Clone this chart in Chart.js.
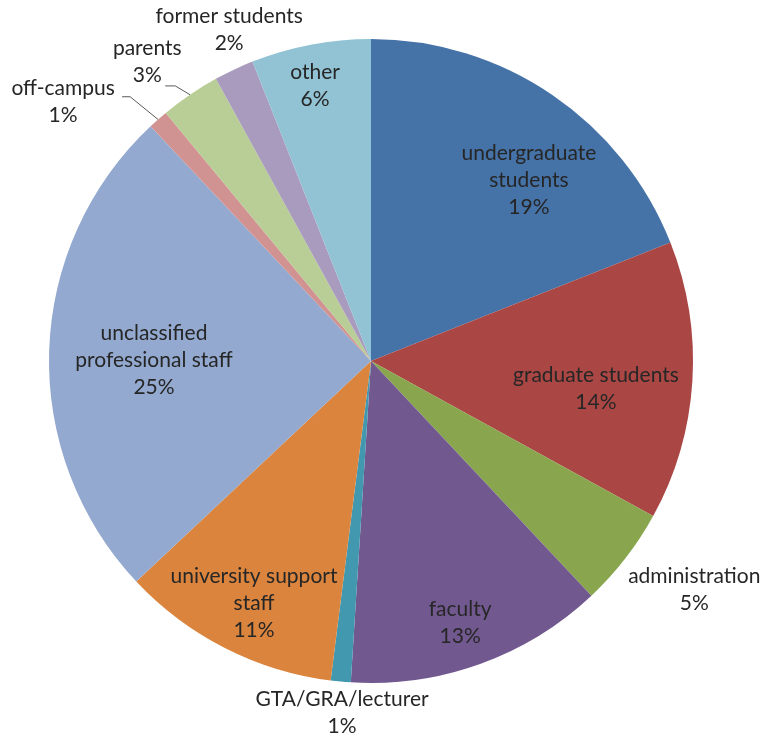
<!DOCTYPE html>
<html>
<head>
  <title>Respondents by group</title>
  <script src="https://cdn.jsdelivr.net/npm/chart.js"></script>
  <style>
    html, body { margin: 0; padding: 0; background: #fff; }
    #wrap { width: 767px; height: 742px; }
  </style>
</head>
<body>
  <div id="wrap"><canvas id="pieChart"></canvas></div>

  <script>
    const groups = [
      ["undergraduate", "students"],
      ["graduate students"],
      ["administration"],
      ["faculty"],
      ["GTA/GRA/lecturer"],
      ["university support", "staff"],
      ["unclassified", "professional staff"],
      ["off-campus"],
      ["parents"],
      ["former students"],
      ["other"]
    ];
    const shares = [19, 14, 5, 13, 1, 11, 25, 1, 3, 2, 6];
    const colors = [
      "#4572A7", "#AA4643", "#89A54E", "#71588F", "#4198AF", "#DB843D",
      "#93A9CF", "#D19392", "#B9CD96", "#A99BBD", "#92C3D4"
    ];

    // where each label sits: fraction of the radius, and degrees turned off the slice middle
    const labelRadius = [0.746, 0.704, 1.23, 0.859, 1.097, 0.835, 0.674, 1.25, 1.16, 1.118, 0.871];
    const labelTurn = [6.9, 3.5, -2.5, 1, -0.7, -1.2, -1.5, -8.5, -2.6, 2, -0.7];
    // leader lines for the two crowded outside labels: [elbow dx, end dx, dy] from label centre
    const leaders = { 7: [67, 59, -5], 8: [28, 18, 24] };

    const FONT = '21px Lato, "Liberation Sans", sans-serif';
    const LINE_H = 27;

    const sliceLabels = {
      id: "sliceLabels",
      afterDatasetsDraw(chart) {
        const ctx = chart.ctx;
        const arcs = chart.getDatasetMeta(0).data;
        ctx.save();
        ctx.font = FONT;
        ctx.fillStyle = "#262626";
        ctx.textAlign = "center";
        ctx.textBaseline = "middle";
        arcs.forEach((arc, i) => {
          const p = arc.getProps(["x", "y", "startAngle", "endAngle", "outerRadius"], true);
          const mid = (p.startAngle + p.endAngle) / 2 + labelTurn[i] * Math.PI / 180;
          const r = p.outerRadius * labelRadius[i];
          const cx = p.x + Math.cos(mid) * r;
          const cy = p.y + Math.sin(mid) * r;
          const lines = groups[i].concat([shares[i] + "%"]);
          const top = cy - (lines.length - 1) * LINE_H / 2;
          lines.forEach((t, k) => ctx.fillText(t, cx, top + k * LINE_H));

          const ld = leaders[i];
          if (ld) {
            const a = (p.startAngle + p.endAngle) / 2;
            ctx.beginPath();
            ctx.strokeStyle = "#5a5a5a";
            ctx.lineWidth = 1;
            ctx.moveTo(p.x + Math.cos(a) * p.outerRadius, p.y + Math.sin(a) * p.outerRadius);
            ctx.lineTo(cx + ld[0], cy + ld[2]);
            ctx.lineTo(cx + ld[1], cy + ld[2]);
            ctx.stroke();
          }
        });
        ctx.restore();
      }
    };

    new Chart(document.getElementById("pieChart"), {
      type: "pie",
      data: {
        labels: groups.map(g => g.join(" ")),
        datasets: [{
          data: shares,
          backgroundColor: colors,
          borderWidth: 0
        }]
      },
      options: {
        responsive: true,
        maintainAspectRatio: false,
        animation: false,
        layout: { padding: { top: 39, bottom: 59, left: 49, right: 74 } },
        plugins: {
          legend: { display: false },
          tooltip: { enabled: false }
        }
      },
      plugins: [sliceLabels]
    });
  </script>
</body>
</html>
